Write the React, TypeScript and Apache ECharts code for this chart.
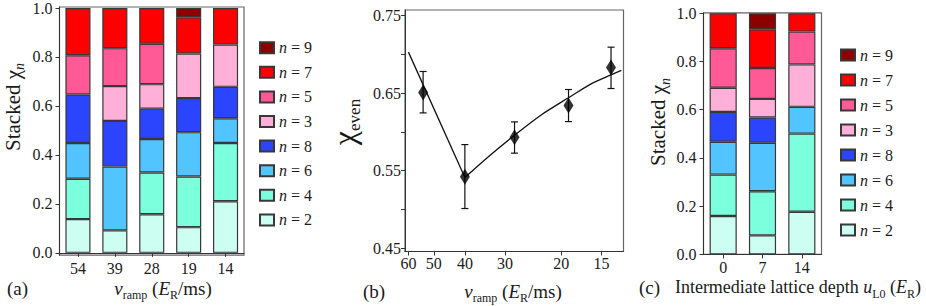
import React, { useEffect, useRef } from 'react';
import * as echarts from 'echarts';

// ---------- data ----------
const rampCategories = ['54', '39', '28', '19', '14'];
const depthCategories = ['0', '7', '14'];
const seriesNames = ['n = 2', 'n = 4', 'n = 6', 'n = 8', 'n = 3', 'n = 5', 'n = 7', 'n = 9'];
const legendOrder = ['n = 9', 'n = 7', 'n = 5', 'n = 3', 'n = 8', 'n = 6', 'n = 4', 'n = 2'];

// panel (a): stacked chi_n vs ramp speed
const rampN2 = [0.138, 0.092, 0.158, 0.105, 0.211];
const rampN4 = [0.165, null, 0.170, 0.207, 0.238];
const rampN6 = [0.146, 0.261, 0.137, 0.181, 0.101];
const rampN8 = [0.198, 0.186, 0.124, 0.139, 0.128];
const rampN3 = [null, 0.142, 0.100, 0.182, 0.173];
const rampN5 = [0.160, 0.155, 0.165, null, null];
const rampN7 = [0.193, 0.164, 0.146, 0.148, 0.149];
const rampN9 = [null, null, null, 0.038, null];

// panel (c): stacked chi_n vs intermediate lattice depth
const depthN2 = [0.159, 0.079, 0.177];
const depthN4 = [0.172, 0.183, 0.324];
const depthN6 = [0.136, 0.201, 0.111];
const depthN8 = [0.124, 0.105, null];
const depthN3 = [0.100, 0.077, 0.176];
const depthN5 = [0.164, 0.128, 0.136];
const depthN7 = [0.145, 0.161, 0.076];
const depthN9 = [null, 0.066, null];

// panel (b): chi_even vs ramp speed
const rampSpeeds = [54, 40, 28, 19, 14];
const chiEven = [0.651, 0.542, 0.593, 0.634, 0.683];
const chiEvenLow = [0.6245, 0.501, 0.5725, 0.6133, 0.656];
const chiEvenHigh = [0.678, 0.5836, 0.6129, 0.6547, 0.7094];
const fitLeftX = [60, 40];
const fitLeftY = [0.703, 0.541];
const fitRightX = [40, 34, 28, 23, 19, 16, 14, 13];
const fitRightY = [0.541, 0.567, 0.5957, 0.6225, 0.644, 0.663, 0.6735, 0.6795];

// tick labels
const stackTicks = [0, 0.2, 0.4, 0.6, 0.8, 1.0];
const rampTicks = [60, 50, 40, 30, 20, 15];
const chiLabelTicks = [0.45, 0.55, 0.65, 0.75];
const chiTickMarks = [0.45, 0.5, 0.55, 0.6, 0.65, 0.7, 0.75];

// ---------- styles ----------
const FONT = '"Liberation Serif", "Times New Roman", "DejaVu Serif", serif';
const TXT = '#1a1a1a';
const FRAME = '#666666';
const colorByName: Record<string, string> = {
  'n = 9': '#8c0000',
  'n = 7': '#ff0000',
  'n = 5': '#ff5a96',
  'n = 3': '#ffb0d8',
  'n = 8': '#2b45ff',
  'n = 6': '#52c4ff',
  'n = 4': '#7cffdc',
  'n = 2': '#ccfff1',
};

const rampSeriesData = [rampN2, rampN4, rampN6, rampN8, rampN3, rampN5, rampN7, rampN9];
const depthSeriesData = [depthN2, depthN4, depthN6, depthN8, depthN3, depthN5, depthN7, depthN9];

const axisLine = { show: true, lineStyle: { color: '#333', width: 1 } };

function buildOption() {
  const barSeries: any[] = [];
  seriesNames.forEach((name, i) => {
    barSeries.push({
      type: 'bar',
      name,
      stack: 'ramp',
      xAxisIndex: 0,
      yAxisIndex: 0,
      barCategoryGap: '32%',
      data: rampSeriesData[i],
      itemStyle: { color: colorByName[name], borderColor: '#383838', borderWidth: 1.2 },
    });
    barSeries.push({
      type: 'bar',
      name,
      stack: 'depth',
      xAxisIndex: 2,
      yAxisIndex: 2,
      barCategoryGap: '31%',
      data: depthSeriesData[i],
      itemStyle: { color: colorByName[name], borderColor: '#383838', borderWidth: 1.2 },
    });
  });

  const legendCommon = {
    orient: 'vertical',
    data: legendOrder,
    itemWidth: 14,
    itemHeight: 11,
    selectedMode: false,
    icon: 'rect',
    formatter: (name: string) => `{i|n}{t| = ${name.split('= ')[1]}}`,
    textStyle: {
      fontFamily: FONT,
      fontSize: 16,
      lineHeight: 16,
      color: TXT,
      rich: {
        i: { fontStyle: 'italic', fontFamily: FONT, fontSize: 16, lineHeight: 16, color: TXT },
        t: { fontFamily: FONT, fontSize: 16, lineHeight: 16, color: TXT },
      },
    },
  };

  const stackYAxis = (gridIndex: number, min: number, max: number) => ({
    type: 'value',
    gridIndex,
    min,
    max,
    axisLine,
    splitLine: { show: false },
    axisTick: { show: true, length: 4, customValues: stackTicks, lineStyle: { color: '#333' } },
    axisLabel: {
      customValues: stackTicks,
      formatter: (v: number) => v.toFixed(1),
      fontFamily: FONT,
      fontSize: 16,
      color: TXT,
      margin: 7,
    },
  });

  const catXAxis = (gridIndex: number, data: string[]) => ({
    type: 'category',
    gridIndex,
    data,
    axisLine,
    axisTick: { show: true, alignWithLabel: true, length: 4, lineStyle: { color: '#333' } },
    axisLabel: { fontFamily: FONT, fontSize: 16, color: TXT, margin: 5 },
  });

  const errorBars = rampSpeeds.map((v, i) => [v, chiEvenLow[i], chiEvenHigh[i]]);

  const titleRich = {
    t: { fontFamily: FONT, fontSize: 19, lineHeight: 22, color: TXT, verticalAlign: 'middle' },
    ty: { fontFamily: FONT, fontSize: 21, lineHeight: 24, color: TXT, verticalAlign: 'middle' },
    tc: { fontFamily: FONT, fontSize: 18, lineHeight: 22, color: TXT, verticalAlign: 'middle' },
    i: { fontFamily: FONT, fontSize: 19, lineHeight: 22, fontStyle: 'italic', color: TXT, verticalAlign: 'middle' },
    ic: { fontFamily: FONT, fontSize: 18, lineHeight: 22, fontStyle: 'italic', color: TXT, verticalAlign: 'middle' },
    s: { fontFamily: FONT, fontSize: 12, lineHeight: 12, color: TXT, verticalAlign: 'bottom', padding: [0, 0, -2, 0] },
    si: { fontFamily: FONT, fontSize: 14, lineHeight: 13, fontStyle: 'italic', color: TXT, verticalAlign: 'bottom', padding: [0, 0, -2, 0] },
    c: { fontFamily: FONT, fontSize: 32, lineHeight: 30, color: TXT, verticalAlign: 'middle' },
    se: { fontFamily: FONT, fontSize: 17, lineHeight: 17, color: TXT, verticalAlign: 'bottom', padding: [0, 0, -4, 0] },
  };

  const textEl = (x: number, y: number, text: string, rotation = 0, align = 'center') => ({
    type: 'text',
    x,
    y,
    rotation,
    style: { text, rich: titleRich, align, verticalAlign: 'middle', fill: TXT, font: `19px ${FONT}` },
  });

  return {
    animation: false,
    textStyle: { fontFamily: FONT },
    grid: [
      { left: 59.5, top: 5.7, width: 184.5, height: 249.5, show: true, borderColor: FRAME, borderWidth: 1.2, backgroundColor: 'transparent' },
      { left: 405, top: 10, width: 218.5, height: 241.5, show: true, borderColor: FRAME, borderWidth: 1.2, backgroundColor: 'transparent' },
      { left: 703.5, top: 12.8, width: 118, height: 241.6, show: true, borderColor: FRAME, borderWidth: 1.2, backgroundColor: 'transparent' },
    ],
    xAxis: [
      catXAxis(0, rampCategories),
      {
        type: 'log',
        gridIndex: 1,
        inverse: true,
        min: 12.8,
        max: 61.5,
        axisLine,
        splitLine: { show: false },
        minorTick: { show: false },
        axisTick: { show: true, length: 4, customValues: rampTicks, lineStyle: { color: '#333' } },
        axisLabel: { customValues: rampTicks, fontFamily: FONT, fontSize: 16, color: TXT, margin: 4 },
      },
      catXAxis(2, depthCategories),
    ],
    yAxis: [
      stackYAxis(0, -0.0095, 1.004),
      {
        type: 'value',
        gridIndex: 1,
        min: 0.4455,
        max: 0.7574,
        axisLine,
        splitLine: { show: false },
        axisTick: { show: true, length: 4, customValues: chiTickMarks, lineStyle: { color: '#333' } },
        axisLabel: {
          customValues: chiLabelTicks,
          formatter: (v: number) => v.toFixed(2),
          fontFamily: FONT,
          fontSize: 16,
          color: TXT,
          margin: 4,
        },
      },
      stackYAxis(2, 0, 1.002),
    ],
    legend: [
      { ...legendCommon, left: 254, top: 34.7, itemGap: 8.6 },
      { ...legendCommon, left: 835, top: 42, itemGap: 9 },
    ],
    series: [
      ...barSeries,
      {
        type: 'line',
        name: 'fitLeft',
        xAxisIndex: 1,
        yAxisIndex: 1,
        data: fitLeftX.map((x, i) => [x, fitLeftY[i]]),
        showSymbol: false,
        symbol: 'none',
        lineStyle: { color: '#111', width: 1.3 },
        z: 3,
      },
      {
        type: 'line',
        name: 'fitRight',
        xAxisIndex: 1,
        yAxisIndex: 1,
        data: fitRightX.map((x, i) => [x, fitRightY[i]]),
        smooth: 0.3,
        showSymbol: false,
        symbol: 'none',
        lineStyle: { color: '#111', width: 1.3 },
        z: 3,
      },
      {
        type: 'custom',
        name: 'errors',
        xAxisIndex: 1,
        yAxisIndex: 1,
        data: errorBars,
        z: 4,
        renderItem: (params: any, api: any) => {
          const x = api.value(0);
          const lo = api.coord([x, api.value(1)]);
          const hi = api.coord([x, api.value(2)]);
          const cap = 3.5;
          const st = { stroke: '#111', lineWidth: 1.2 };
          return {
            type: 'group',
            children: [
              { type: 'line', shape: { x1: lo[0], y1: lo[1], x2: hi[0], y2: hi[1] }, style: st },
              { type: 'line', shape: { x1: lo[0] - cap, y1: lo[1], x2: lo[0] + cap, y2: lo[1] }, style: st },
              { type: 'line', shape: { x1: hi[0] - cap, y1: hi[1], x2: hi[0] + cap, y2: hi[1] }, style: st },
            ],
          };
        },
      },
      {
        type: 'scatter',
        name: 'chiEven',
        xAxisIndex: 1,
        yAxisIndex: 1,
        data: rampSpeeds.map((x, i) => [x, chiEven[i]]),
        symbol: 'diamond',
        symbolSize: [10, 16],
        itemStyle: { color: '#000' },
        z: 5,
      },
    ],
    graphic: [
      textEl(12.5, 107, '{ty|Stacked χ}{si|n}', Math.PI / 2),
      textEl(163, 288, '{i|v}{s|ramp}{t| (}{i|E}{s|R}{t|/ms)}'),
      textEl(7, 288, '{t|(a)}', 0, 'left'),
      textEl(344, 122, '{c|χ}{se|even}', Math.PI / 2),
      textEl(513, 291, '{i|v}{s|ramp}{t| (}{i|E}{s|R}{t|/ms)}'),
      textEl(363, 291, '{t|(b)}', 0, 'left'),
      textEl(658, 122, '{ty|Stacked χ}{si|n}', Math.PI / 2),
      textEl(798, 287, '{tc|Intermediate lattice depth }{ic|u}{s|L0}{tc| (}{ic|E}{s|R}{tc|)}'),
      textEl(639, 287, '{t|(c)}', 0, 'left'),
    ],
  };
}

export default function App() {
  const ref = useRef<HTMLDivElement>(null);
  useEffect(() => {
    if (!ref.current) return;
    const chart = echarts.init(ref.current, undefined, { renderer: 'svg' });
    chart.setOption(buildOption() as any);
    return () => chart.dispose();
  }, []);
  return (
    <div
      ref={ref}
      style={{ position: 'fixed', left: 0, top: 0, width: 926, height: 306, background: '#fff' }}
    />
  );
}
